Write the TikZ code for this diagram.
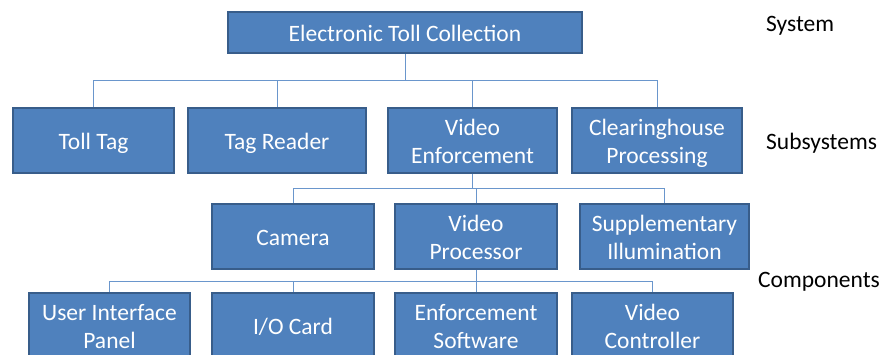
\documentclass[tikz,border=0pt]{standalone}
\usepackage{fontspec}
\setmainfont{Carlito}
\definecolor{boxfill}{HTML}{4F81BD}
\definecolor{boxline}{HTML}{385D8A}
\definecolor{conn}{HTML}{6A96CC}
\newcommand{\bxt}[1]{\raisebox{-3.3pt}[\height][\depth]{\begin{tabular}{@{}c@{}}#1\end{tabular}}}
\begin{document}
\begin{tikzpicture}[x=1pt,y=-1pt,
  box/.style={draw=boxline,line width=1.6pt,fill=boxfill,text=white,
    font=\fontsize{23.5}{28}\selectfont,inner sep=0pt},
  lbl/.style={font=\fontsize{23.5}{28}\selectfont,anchor=west,text=black,inner sep=0pt},
  link/.style={draw=conn,line width=1pt}]
\useasboundingbox (0,0) rectangle (885,355);
\begin{scope}
\clip (0,0) rectangle (885,355);
% level 1
\node[box,minimum width=354pt,minimum height=41pt] (etc) at (405,32.5) {\bxt{Electronic Toll Collection}};
% level 2
\node[box,minimum width=161pt,minimum height=65pt] (tt) at (93.5,140.5) {\bxt{Toll Tag}};
\node[box,minimum width=178pt,minimum height=65pt] (tr) at (277,140.5) {\bxt{Tag Reader}};
\node[box,minimum width=169pt,minimum height=65pt] (ve) at (472.5,140.5) {\bxt{Video\\Enforcement}};
\node[box,minimum width=170pt,minimum height=65pt] (ch) at (657,140.5) {\bxt{Clearinghouse\\Processing}};
% level 3
\node[box,minimum width=162pt,minimum height=65pt] (cam) at (293,236.5) {\bxt{Camera}};
\node[box,minimum width=162pt,minimum height=65pt] (vp) at (476,236.5) {\bxt{Video\\Processor}};
\node[box,minimum width=169pt,minimum height=65pt] (si) at (664.5,236.5) {\bxt{Supplementary\\Illumination}};
% level 4
\node[box,minimum width=161pt,minimum height=65pt,anchor=north] (ui) at (109.5,292) {\bxt{User Interface\\Panel}};
\node[box,minimum width=162pt,minimum height=65pt,anchor=north] (io) at (293,292) {\bxt{I/O Card}};
\node[box,minimum width=162pt,minimum height=65pt,anchor=north] (es) at (476,292) {\bxt{Enforcement\\Software}};
\node[box,minimum width=161pt,minimum height=65pt,anchor=north] (vc) at (652.5,292) {\bxt{Video\\Controller}};
\end{scope}
% connectors
\coordinate (b1) at (0,81);
\coordinate (b2) at (0,189);
\coordinate (b3) at (0,281);
\draw[link] (etc.south) -- (etc.south |- b1);
\foreach \n in {tt,tr,ve,ch} \draw[link] (etc.south |- b1) -| (\n.north);
\draw[link] (ve.south) -- (ve.south |- b2);
\draw[link] (ve.south |- b2) -| (cam.north);
\draw[link] (ve.south |- b2) -| (vp.north);
\draw[link] (ve.south |- b2) -| (si.north);
\draw[link] (vp.south) -- (vp.south |- b3);
\foreach \n in {ui,io,es,vc} \draw[link] (vp.south |- b3) -| (\n.north);
% labels
\node[lbl] (sys) at (766,26) {System};
\node[lbl] (sub) at (766,143) {Subsystems};
\node[lbl] (com) at (758,282) {Components};
\end{tikzpicture}
\end{document}
